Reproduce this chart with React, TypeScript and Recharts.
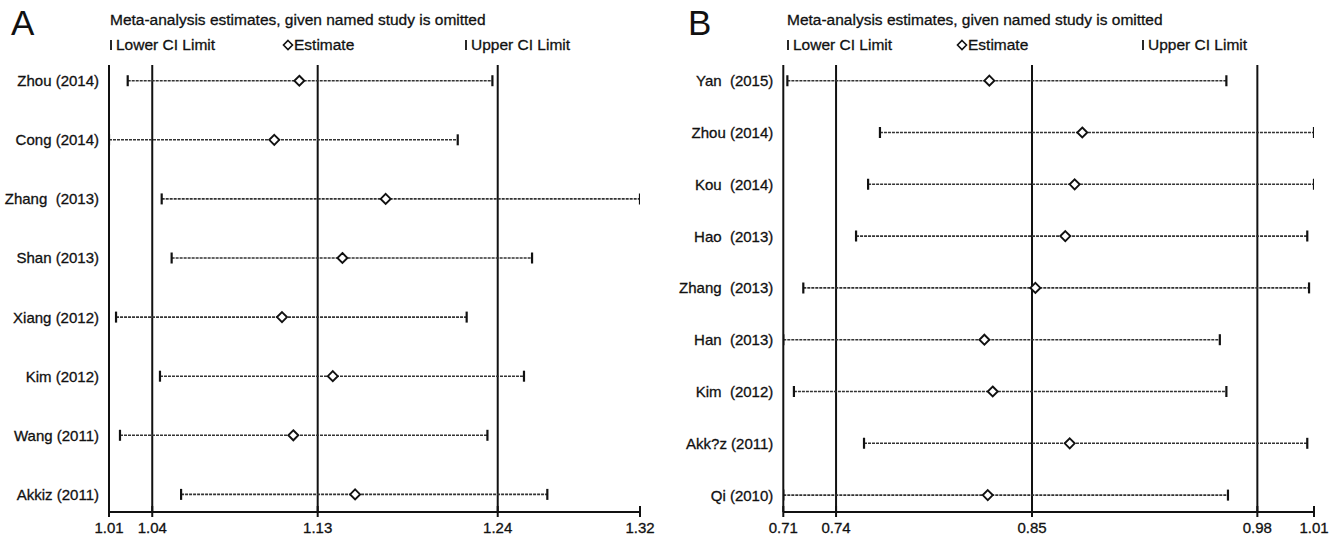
import React from "react";
import { ComposedChart, Scatter, XAxis, YAxis, ReferenceLine } from "recharts";

// ---------- Panel A data ----------
const studiesA = ["Zhou (2014)", "Cong (2014)", "Zhang\u00a0 (2013)", "Shan (2013)", "Xiang (2012)", "Kim (2012)", "Wang (2011)", "Akkiz (2011)"];
const lowerA = [1.0224, 1.0115, 1.0422, 1.048, 1.0156, 1.0412, 1.0179, 1.0535];
const estA = [1.1224, 1.1078, 1.1727, 1.1475, 1.1123, 1.1419, 1.1189, 1.1549];
const upperA = [1.2349, 1.2147, 1.3209, 1.258, 1.2199, 1.2533, 1.232, 1.2669];
const tickValuesA = [1.0115, 1.0367, 1.1331, 1.238, 1.3209];
const tickLabelsA = ["1.01", "1.04", "1.13", "1.24", "1.32"];

// ---------- Panel B data ----------
const studiesB = ["Yan\u00a0 (2015)", "Zhou (2014)", "Kou\u00a0 (2014)", "Hao\u00a0 (2013)", "Zhang\u00a0 (2013)", "Han\u00a0 (2013)", "Kim\u00a0 (2012)", "Akk?z (2011)", "Qi (2010)"];
const lowerB = [0.7133, 0.7656, 0.7589, 0.7521, 0.7223, 0.711, 0.717, 0.7566, 0.711];
const estB = [0.8274, 0.8799, 0.8756, 0.8703, 0.8534, 0.8246, 0.8293, 0.8728, 0.8265];
const upperB = [0.9613, 1.0108, 1.0108, 1.007, 1.008, 0.9576, 0.9613, 1.007, 0.9622];
const tickValuesB = [0.711, 0.7408, 0.8515, 0.9788, 1.0108];
const tickLabelsB = ["0.71", "0.74", "0.85", "0.98", "1.01"];

const FONT = "'Liberation Sans', Arial, sans-serif";
const INK = "#111";
const TEXT_STROKE = { stroke: INK, strokeWidth: 0.3 };

const CapShape = (props: any) => {
  const { cx, cy } = props;
  if (cx == null || cy == null) return null;
  return <line x1={cx} x2={cx} y1={cy - 5.5} y2={cy + 5.5} stroke={INK} strokeWidth={2.2} />;
};

const DiamondShape = (props: any) => {
  const { cx, cy } = props;
  if (cx == null || cy == null) return null;
  const r = 5;
  return (
    <path
      d={`M${cx},${cy - r} L${cx + r},${cy} L${cx},${cy + r} L${cx - r},${cy} Z`}
      fill="#fff"
      stroke={INK}
      strokeWidth={1.9}
    />
  );
};

type PanelProps = {
  studies: string[];
  lower: number[];
  est: number[];
  upper: number[];
  tickValues: number[];
  tickLabels: string[];
  yDomain: [number, number];
  width: number;
  left: number;
  rightMargin: number;
  yAxisWidth: number;
};

const Panel = (p: PanelProps) => {
  const lowerData = p.studies.map((_, i) => ({ x: p.lower[i], y: i }));
  const estData = p.studies.map((_, i) => ({ x: p.est[i], y: i }));
  const upperData = p.studies.map((_, i) => ({ x: p.upper[i], y: i }));
  const yTicks = p.studies.map((_, i) => i);

  const XTick = (props: any) => {
    const { x, y, payload } = props;
    const idx = p.tickValues.indexOf(payload.value);
    return (
      <g>
        <line x1={x} x2={x} y1={y - 6} y2={y + 5} stroke={INK} strokeWidth={2} />
        <text x={x} y={y + 21} textAnchor="middle" fontFamily={FONT} fontSize={15} fill={INK} {...TEXT_STROKE}>
          {idx >= 0 ? p.tickLabels[idx] : ""}
        </text>
      </g>
    );
  };

  const YTick = (props: any) => {
    const { x, y, payload } = props;
    return (
      <text x={x - 10} y={y} dy="0.36em" textAnchor="end" fontFamily={FONT} fontSize={15} fill={INK} {...TEXT_STROKE}>
        {p.studies[payload.value]}
      </text>
    );
  };

  return (
    <div style={{ position: "absolute", left: p.left, top: 0 }}>
      <ComposedChart
        width={p.width}
        height={540}
        margin={{ top: 65, right: p.rightMargin, bottom: 0, left: 0 }}
      >
        <XAxis
          type="number"
          dataKey="x"
          domain={[p.tickValues[0], p.tickValues[p.tickValues.length - 1]]}
          ticks={p.tickValues}
          allowDataOverflow
          height={28}
          tickSize={0}
          tickMargin={0}
          tickLine={false}
          axisLine={{ stroke: INK, strokeWidth: 2 }}
          tick={<XTick />}
          interval={0}
        />
        <YAxis
          type="number"
          dataKey="y"
          domain={p.yDomain}
          reversed
          allowDataOverflow
          ticks={yTicks}
          interval={0}
          width={p.yAxisWidth}
          tickSize={0}
          tickMargin={0}
          tickLine={false}
          axisLine={{ stroke: INK, strokeWidth: 2 }}
          tick={<YTick />}
        />
        {p.tickValues.slice(1, 4).map((v, i) => (
          <ReferenceLine key={`v${i}`} x={v} stroke={INK} strokeWidth={2} />
        ))}
        {p.studies.map((_, i) => (
          <ReferenceLine
            key={`ci${i}`}
            segment={[
              { x: p.lower[i], y: i },
              { x: p.upper[i], y: i },
            ]}
            stroke="#333"
            strokeWidth={1.6}
            strokeDasharray="3 1"
          />
        ))}
        <Scatter data={lowerData} shape={<CapShape />} isAnimationActive={false} />
        <Scatter data={upperData} shape={<CapShape />} isAnimationActive={false} />
        <Scatter data={estData} shape={<DiamondShape />} isAnimationActive={false} />
      </ComposedChart>
    </div>
  );
};

const Header = ({ letter, letterX, x0, estX, upX }: { letter: string; letterX: number; x0: number; estX: number; upX: number }) => (
  <g fontFamily={FONT} fill={INK}>
    <text x={letterX} y={35} fontSize={35}>{letter}</text>
    <text x={x0} y={25} fontSize={15.5} {...TEXT_STROKE}>Meta-analysis estimates, given named study is omitted</text>
    <line x1={x0 + 1} x2={x0 + 1} y1={40} y2={50} stroke={INK} strokeWidth={1.8} />
    <text x={x0 + 6} y={50} fontSize={15.5} {...TEXT_STROKE}>Lower CI Limit</text>
    <path d={`M${estX},${40.5} L${estX + 4.5},${45} L${estX},${49.5} L${estX - 4.5},${45} Z`} fill="#fff" stroke={INK} strokeWidth={1.6} />
    <text x={estX + 6} y={50} fontSize={15.5} {...TEXT_STROKE}>Estimate</text>
    <line x1={upX} x2={upX} y1={40} y2={50} stroke={INK} strokeWidth={1.8} />
    <text x={upX + 5} y={50} fontSize={15.5} {...TEXT_STROKE}>Upper CI Limit</text>
  </g>
);

export default function App() {
  return (
    <div style={{ position: "absolute", left: 0, top: 0, width: 1333, height: 540, background: "#fff", overflow: "hidden" }}>
      <svg width={1333} height={540} style={{ position: "absolute", left: 0, top: 0 }}>
        <Header letter="A" letterX={11} x0={110} estX={288} upX={466} />
        <Header letter="B" letterX={688} x0={787} estX={962} upX={1143} />
      </svg>
      <Panel
        studies={studiesA}
        lower={lowerA}
        est={estA}
        upper={upperA}
        tickValues={tickValuesA}
        tickLabels={tickLabelsA}
        yDomain={[-0.266, 7.298]}
        width={660}
        left={0}
        rightMargin={20}
        yAxisWidth={109}
      />
      <Panel
        studies={studiesB}
        lower={lowerB}
        est={estB}
        upper={upperB}
        tickValues={tickValuesB}
        tickLabels={tickLabelsB}
        yDomain={[-0.303, 8.326]}
        width={659}
        left={674}
        rightMargin={19}
        yAxisWidth={109.3}
      />
    </div>
  );
}
